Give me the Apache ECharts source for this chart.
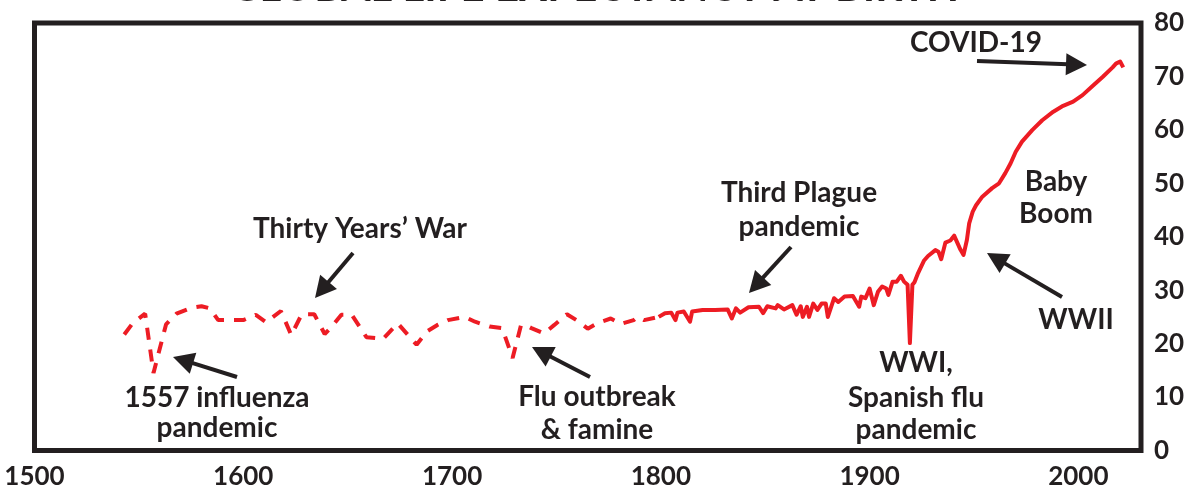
<!DOCTYPE html>
<html>
<head>
<meta charset="utf-8">
<script src="https://cdn.jsdelivr.net/npm/echarts@6/dist/echarts.min.js"></script>
<style>
html,body{margin:0;padding:0;background:#ffffff;}
#chart{width:1190px;height:496px;}
</style>
</head>
<body>
<div id="chart"></div>
<script>
// ---- data ----
const titleText = 'GLOBAL LIFE EXPECTANCY AT BIRTH';

const earlyYears = [1543,1547,1553,1557,1563,1568,1575,1580,1584,1588,1595,1600,1606,1611,1618,1623,1628,1634,1639,1642,1647,1652,1659,1667,1674,1683,1688,1693,1698,1706,1711,1718,1724,1729,1733,1735,1738,1744,1749,1755,1760,1765,1770,1776,1781,1787,1789,1792,1799];
const earlyValues = [21.7,23.8,25.6,14.5,23.6,25.6,26.7,27.0,26.6,24.4,24.4,24.4,25.4,24.0,26.1,21.6,25.5,25.5,21.8,23.0,25.4,25.4,21.2,20.9,23.8,19.8,22.3,23.5,24.4,25.0,24.1,23.2,22.9,17.3,23.4,23.5,22.9,21.9,23.5,25.5,24.3,22.8,23.9,24.7,23.7,24.4,25.0,24.4,25.0];

const modernYears = [1799,1802,1805,1807,1808,1811,1814,1815,1820,1826,1832,1834,1836,1838,1842,1847,1849,1851,1855,1856,1859,1863,1865,1867,1868,1870,1871,1873,1875,1877,1879,1880,1883,1885,1888,1892,1895,1896,1898,1900,1902,1904,1906,1908,1909,1911,1913,1915,1916.5,1918.2,1919.3,1920.5,1921.5,1923,1926,1928,1931.5,1933,1934.3,1936.3,1938.7,1940.5,1943.5,1945,1946.6,1947.7,1949.4,1951,1954,1958.7,1962,1965,1967.5,1970,1973,1978,1982.7,1988,1992.7,1997.5,2002,2006.8,2011.6,2016.4,2018,2020,2021.5];
const modernValues = [25.0,25.7,25.8,24.4,25.8,26.0,24.1,26.0,26.3,26.3,26.4,24.7,26.6,25.8,26.8,26.9,25.7,27.0,26.6,27.2,26.4,27.2,25.4,27.0,25.0,26.9,25.0,27.5,26.3,27.5,27.5,25.0,28.5,27.8,28.8,28.9,26.9,28.8,28.5,30.3,27.2,29.7,30.7,30.3,29.1,31.6,31.6,32.7,31.6,31.0,20.1,31.0,31.5,33.0,35.5,36.4,37.5,37.2,35.8,38.9,39.3,40.2,37.6,36.6,39.4,42.5,44.7,45.9,47.5,49.1,50.0,51.9,53.7,55.9,57.8,60.0,61.8,63.4,64.5,65.3,66.5,68.2,69.9,71.7,72.4,72.8,71.7];

const xMin = 1500, xMax = 2030, xStep = 100;
const yMin = 0, yMax = 80, yStep = 10;

// annotation texts (lines) and where they sit (pixels), arrows (tail -> tip, pixels)
const annoTexts = [
  {lines:['Thirty Years\u2019 War'], x:360, base:[239]},
  {lines:['1557 influenza','pandemic'], x:217, base:[408,438]},
  {lines:['Flu outbreak','& famine'], x:597, base:[407,440]},
  {lines:['Third Plague','pandemic'], x:799, base:[203,237]},
  {lines:['COVID-19'], x:976, base:[53]},
  {lines:['Baby','Boom'], x:1056, base:[192,224]},
  {lines:['WWII'], x:1076, base:[330]},
  {lines:['WWI,','Spanish flu','pandemic'], x:916, base:[373,408,440]}
];
const annoArrows = [
  [353,253,315,298],
  [237,377,173,357],
  [590,377,532,347],
  [791,247,749,293],
  [977,61,1087,65],
  [1062,297,987,253]
];

// ---- build ----
const INK = '#231f20';
const RED = '#ed1c24';
const FONT = 'Lato';

const earlyData = earlyYears.map((y,i)=>[y, earlyValues[i]]);
const modernData = modernYears.map((y,i)=>[y, modernValues[i]]);

const graphics = [];
graphics.push({
  type:'text', x:594, y:-12.5,
  style:{text:titleText, font:'bold 42px ' + FONT, fill:INK, align:'center', verticalAlign:'middle'}
});
annoTexts.forEach(a=>{
  a.lines.forEach((t,i)=>{
    graphics.push({type:'text', x:a.x, y:a.base[i]-10.5, z:10,
      style:{text:t, font:'bold 28px ' + FONT, fill:INK, align:'center', verticalAlign:'middle'}});
  });
});
annoArrows.forEach(([x1,y1,x2,y2])=>{
  const dx = x2-x1, dy = y2-y1, L = Math.hypot(dx,dy);
  const ux = dx/L, uy = dy/L, head = 21, hw = 11;
  const bx = x2 - ux*head, by = y2 - uy*head;
  graphics.push({type:'line', z:10, shape:{x1:x1,y1:y1,x2:bx+ux*2,y2:by+uy*2}, style:{stroke:INK, lineWidth:4}});
  graphics.push({type:'polygon', z:10, shape:{points:[[x2,y2],[bx - uy*hw, by + ux*hw],[bx + uy*hw, by - ux*hw]]}, style:{fill:INK}});
});

const chart = echarts.init(document.getElementById('chart'), null, {renderer:'canvas'});
chart.setOption({
  animation:false,
  backgroundColor:'#ffffff',
  grid:{left:34.5, right:49, top:23, bottom:45.5, show:true, borderColor:INK, borderWidth:5, backgroundColor:'transparent'},
  xAxis:{type:'value', min:xMin, max:xMax, interval:xStep,
    axisLine:{show:false}, axisTick:{show:false}, splitLine:{show:false},
    axisLabel:{showMaxLabel:false, margin:13, color:INK, fontFamily:FONT, fontWeight:'bold', fontSize:26,
      formatter:(v)=>String(v)}},
  yAxis:{type:'value', position:'right', min:yMin, max:yMax, interval:yStep,
    axisLine:{show:false}, axisTick:{show:false}, splitLine:{show:false},
    axisLabel:{margin:13, color:INK, fontFamily:FONT, fontWeight:'bold', fontSize:26}},
  series:[
    {type:'line', data:earlyData, symbol:'none', smooth:false,
     lineStyle:{color:RED, width:4, type:[12,10]}},
    {type:'line', data:modernData, symbol:'none', smooth:false,
     lineStyle:{color:RED, width:4, join:'round'}}
  ],
  graphic:graphics
});
</script>
</body>
</html>
